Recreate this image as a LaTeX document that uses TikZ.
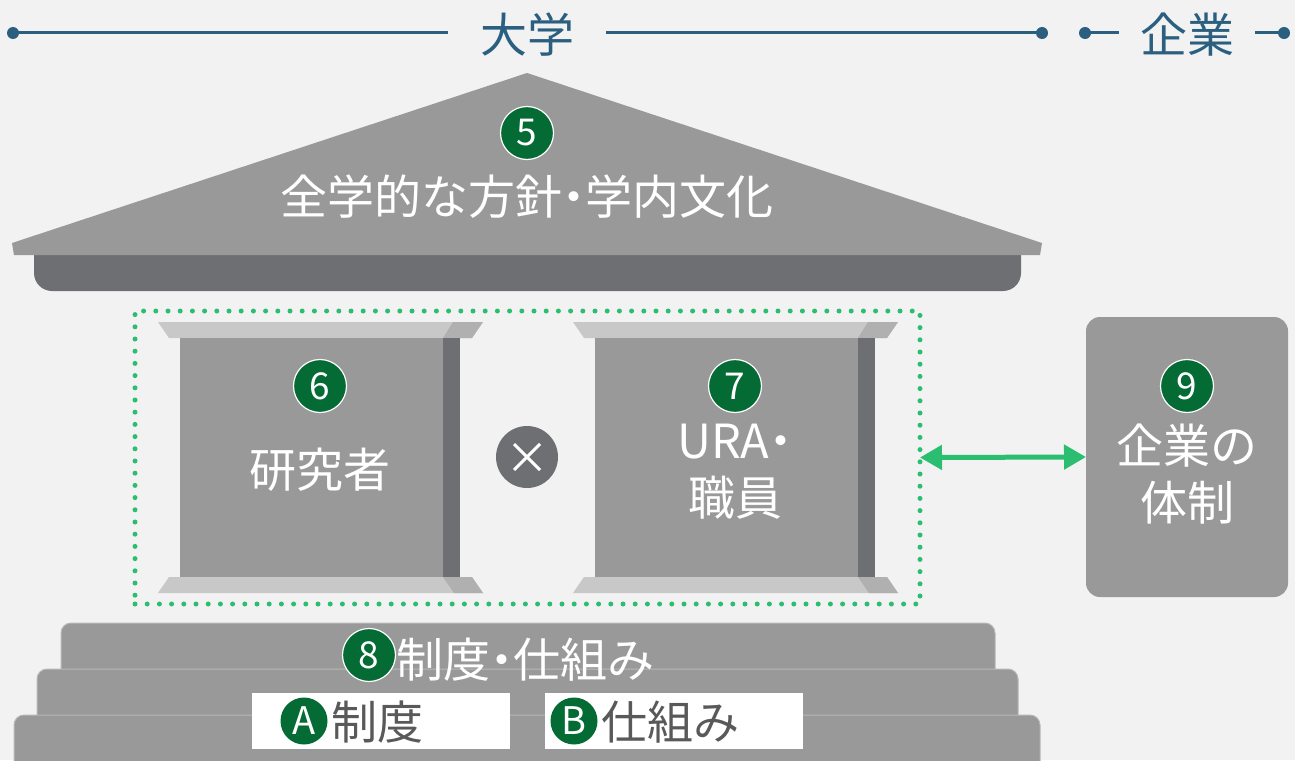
\documentclass[tikz,border=0pt]{standalone}
\usepackage{fontspec}
\setmainfont{Noto Sans CJK JP}
\usetikzlibrary{arrows.meta}
\definecolor{bgcol}{HTML}{F2F2F2}
\definecolor{stone}{HTML}{999999}
\definecolor{darkstone}{HTML}{6E6F73}
\definecolor{capcol}{HTML}{C8C8C8}
\definecolor{capdarkcol}{HTML}{B0B0B0}
\definecolor{dotgreen}{HTML}{2BBE70}
\definecolor{numgreen}{HTML}{046B34}
\definecolor{topblue}{HTML}{2B5F80}
\definecolor{subtext}{HTML}{595959}
\definecolor{stepedge}{HTML}{B8B8B8}
\newcommand\nakadot{\makebox[0.5em]{・}}
\tikzset{
  bigtext/.style={text=white, font=\fontsize{47}{57}\selectfont, align=center, inner sep=0pt},
  numcirc/.style={circle, fill=numgreen, draw=white, line width=1.2pt, minimum size=53pt, inner sep=0pt, text=white, font=\fontsize{37}{37}\selectfont},
  smallcirc/.style={circle, fill=numgreen, minimum size=47pt, inner sep=0pt, text=white, font=\fontsize{38}{38}\selectfont},
  toplabel/.style={text=topblue, font=\fontsize{47}{47}\selectfont, inner ysep=0pt},
  topline/.style={draw=topblue, line width=3pt},
  topdot/.style={circle, fill=topblue, minimum size=12pt, inner sep=0pt},
  steptier/.style={fill=stone, draw=stepedge, line width=1pt, rounded corners=10pt},
  subtextstyle/.style={text=subtext, font=\fontsize{46}{46}\selectfont, inner sep=0pt, anchor=west},
}
\begin{document}
\begin{tikzpicture}[x=1pt,y=-1pt]
\useasboundingbox (0,0) rectangle (1295,760);
\fill[bgcol] (0,0) rectangle (1295,760);

% top line
\node[topdot] (d1) at (13,33) {};
\node[topdot] (d2) at (1042,33) {};
\node[topdot] (d3) at (1085,33) {};
\node[topdot] (d4) at (1284,33) {};
\node[toplabel, inner xsep=32pt] (uni) at (527,35) {大学};
\node[toplabel, inner xsep=21pt] (corp) at (1187,35) {企業};
\draw[topline] (d1.center) -- (d1.center -| uni.west);
\draw[topline] (d2.center -| uni.east) -- (d2.center);
\draw[topline] (d3.center) -- (d3.center -| corp.west);
\draw[topline] (d4.center -| corp.east) -- (d4.center);

% roof
\fill[darkstone, rounded corners=18pt] (34,235) rectangle (1021,291);
\fill[stone] (527,73) -- (1042,243) -- (1040,255) -- (14,255) -- (12,243) -- cycle;
\node[numcirc] (n5) at (527,133) {5};
\node[bigtext] (roof) at (527,197) {全学的な方針\nakadot 学内文化};

% pillars
\foreach \dx in {0,415} {
  \begin{scope}[xshift=\dx]
    \fill[capcol] (158,322) -- (483,322) -- (472,338) -- (169,338) -- cycle;
    \fill[capdarkcol] (453,322) -- (483,322) -- (472,338) -- (443,338) -- cycle;
    \fill[stone] (180,338) rectangle (460,577);
    \fill[darkstone] (443,338) rectangle (460,577);
    \fill[capcol] (169,577) -- (472,577) -- (483,593) -- (158,593) -- cycle;
    \fill[capdarkcol] (443,577) -- (472,577) -- (483,593) -- (454,593) -- cycle;
  \end{scope}
}
\node[numcirc] (n6) at (320,386) {6};
\node[bigtext] (researcher) at (320,470) {研究者};
\node[numcirc] (n7) at (735,386) {7};
\node[bigtext] (ura) at (735,472) {URA\nakadot\\職員};

% times circle
\node[circle, fill=darkstone, minimum size=62pt, inner sep=0pt] (times) at (527,457) {};
\draw[white, line width=3pt] ([shift={(-13,-13)}]times.center) -- ([shift={(13,13)}]times.center);
\draw[white, line width=3pt] ([shift={(-13,13)}]times.center) -- ([shift={(13,-13)}]times.center);

% dotted team box
\node[draw=dotgreen, line width=5pt, dash pattern=on 0pt off 12.2pt, line cap=round,
      minimum width=785pt, minimum height=293pt, inner sep=0pt, outer sep=0pt] (team) at (527.5,457.5) {};

% company box
\node[fill=stone, rounded corners=14pt, minimum width=202pt, minimum height=280pt, inner sep=0pt, outer sep=0pt] (firm) at (1187,457) {};
\node[numcirc] (n9) at (1187,386) {9};
\node[bigtext] (firmtext) at (1187,474) {企業の\\体制};

\draw[dotgreen, line width=5pt, {Triangle[length=22pt,width=24pt]}-{Triangle[length=22pt,width=24pt]}] (team.east) -- (firm.west);

% steps
\draw[steptier] (61,780) -- (61,623) -- (995,623) -- (995,780);
\draw[steptier] (37,780) -- (37,669) -- (1018,669) -- (1018,780);
\draw[steptier] (14,780) -- (14,715) -- (1040,715) -- (1040,780);
\node[numcirc] (n8) at (369,655) {8};
\node[bigtext, anchor=west] (system) at (396,660) {制度\nakadot 仕組み};

\node[fill=white, minimum width=258pt, minimum height=56pt, inner sep=0pt] (boxA) at (381,721) {};
\node[fill=white, minimum width=258pt, minimum height=56pt, inner sep=0pt] (boxB) at (674,721) {};
\node[smallcirc] (cA) at (304,721) {A};
\node[subtextstyle] (tA) at (331,722) {制度};
\node[smallcirc] (cB) at (574,721) {B};
\node[subtextstyle] (tB) at (601,722) {仕組み};
\end{tikzpicture}
\end{document}
